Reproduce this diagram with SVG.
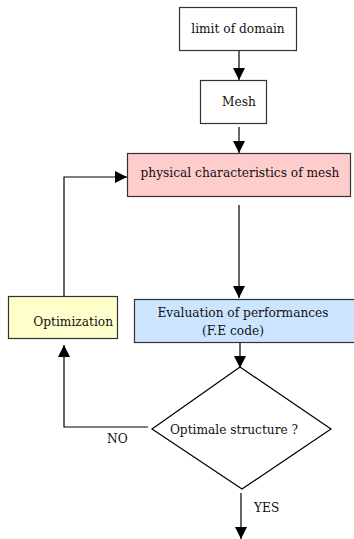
<svg xmlns="http://www.w3.org/2000/svg" width="354" height="539" viewBox="0 0 354 539">
<defs>
<marker id="ah" markerWidth="12" markerHeight="12" viewBox="0 0 12 12" refX="12" refY="6" orient="auto" markerUnits="userSpaceOnUse">
<path d="M0,0 L12,6 L0,12 Z" fill="#000"/>
</marker>
</defs>
<style>
.box{stroke:#333;stroke-width:1.2}
.t{font-family:"DejaVu Serif","Liberation Serif",serif;font-size:12.2px;fill:#111}
.c{stroke:#000;stroke-width:1.2;fill:none}
</style>
<rect width="354" height="539" fill="#fff"/>
<g id="connectors">
<line class="c" x1="239" y1="51" x2="239" y2="80" marker-end="url(#ah)"/>
<line class="c" x1="239" y1="127" x2="239" y2="153" marker-end="url(#ah)"/>
<line class="c" x1="239" y1="205" x2="239" y2="298" marker-end="url(#ah)"/>
<line class="c" x1="240" y1="343" x2="240" y2="368" marker-end="url(#ah)"/>
<polyline class="c" points="64,296 64,177 127,177" marker-end="url(#ah)"/>
<polyline class="c" points="148,427 64,427 64,345" marker-end="url(#ah)"/>
<line class="c" x1="241" y1="493" x2="241" y2="539" marker-end="url(#ah)"/>
<text class="t" x="107" y="443">NO</text>
<text class="t" x="254" y="512">YES</text>
</g>
<g id="limit">
<rect class="box" x="179.5" y="7.5" width="117" height="43" fill="#fff"/>
<text class="t" x="238" y="33" text-anchor="middle">limit of domain</text>
</g>
<g id="mesh">
<rect class="box" x="200.5" y="80.5" width="66" height="43" fill="#fff"/>
<text class="t" x="239" y="106" text-anchor="middle">Mesh</text>
</g>
<g id="physical">
<rect class="box" x="127.5" y="153.5" width="223" height="43" fill="#ffcccc"/>
<text class="t" x="240" y="177" text-anchor="middle">physical characteristics of mesh</text>
</g>
<g id="optimization">
<rect class="box" x="8.5" y="296.5" width="109" height="42" fill="#ffffcc"/>
<text class="t" x="113" y="326" text-anchor="end">Optimization</text>
</g>
<g id="evaluation">
<rect class="box" x="134.5" y="299.5" width="224" height="43" fill="#cce5ff"/>
<text class="t" x="243" y="317" text-anchor="middle">Evaluation of performances</text>
<text class="t" x="233" y="335" text-anchor="middle">(F.E code)</text>
</g>
<g id="decision">
<polygon class="box" points="240,367 331,429 242,489 152,429" fill="#fff" style="stroke:#000"/>
<text class="t" x="234" y="434" text-anchor="middle">Optimale structure ?</text>
</g>
</svg>
